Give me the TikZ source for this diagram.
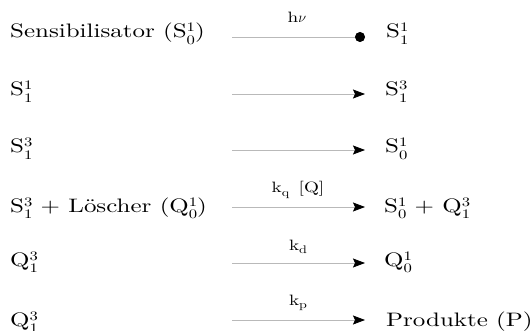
\documentclass[tikz,border=0pt]{standalone}
\usepackage{fontspec}
\setmainfont{lmroman10-regular}[Extension=.otf, FakeStretch=1.28]
\usetikzlibrary{arrows.meta}
\newcommand{\supsub}[2]{{\fontsize{13}{14}\selectfont\rlap{\raisebox{6pt}{#1}}\raisebox{-6.5pt}{#2}}}
\newcommand{\lsub}[1]{\raisebox{-3pt}{\fontsize{11}{12}\selectfont #1}}
\tikzset{
  txt/.style={inner sep=0pt, anchor=base west, font=\fontsize{19.5}{22}\selectfont},
  lbl/.style={inner sep=0pt, anchor=base, font=\fontsize{15}{17}\selectfont},
  rxn/.style={draw=gray!55, line width=0.8pt, -{Stealth[length=12pt,width=9pt,inset=2pt,black]}},
  rxndot/.style={draw=gray!55, line width=0.8pt, -{Circle[length=10pt,black]}}
}
\begin{document}
\begin{tikzpicture}[x=1pt,y=-1pt]
\useasboundingbox (0,0) rectangle (532,331);
% left column
\node[txt] (L1) at (10,38) {Sensibilisator (S\supsub{1}{0})};
\node[txt] (L2) at (10,96) {S\supsub{1}{1}};
\node[txt] (L3) at (10,153) {S\supsub{3}{1}};
\node[txt] (L4) at (10,212) {S\supsub{3}{1} + Löscher (Q\supsub{1}{0})};
\node[txt] (L5) at (10,266) {Q\supsub{3}{1}};
\node[txt] (L6) at (10,326) {Q\supsub{3}{1}};
% right column
\node[txt] (R1) at (386,38) {S\supsub{1}{1}};
\node[txt] (R2) at (385,96) {S\supsub{3}{1}};
\node[txt] (R3) at (385,153) {S\supsub{1}{0}};
\node[txt] (R4) at (384,212) {S\supsub{1}{0} + Q\supsub{3}{1}};
\node[txt] (R5) at (384,266) {Q\supsub{1}{0}};
\node[txt] (R6) at (386,326) {Produkte (P)};
% arrow end points
\coordinate (s1) at (232,37);  \coordinate (e1) at (365,37);
\coordinate (s2) at (232,94);  \coordinate (e2) at (365,94);
\coordinate (s3) at (232,150); \coordinate (e3) at (365,150);
\coordinate (s4) at (232,207); \coordinate (e4) at (365,207);
\coordinate (s5) at (232,263); \coordinate (e5) at (365,263);
\coordinate (s6) at (232,320); \coordinate (e6) at (365,320);
\draw[rxndot] (s1) -- (e1);
\draw[rxn] (s2) -- (e2);
\draw[rxn] (s3) -- (e3);
\draw[rxn] (s4) -- (e4);
\draw[rxn] (s5) -- (e5);
\draw[rxn] (s6) -- (e6);
% labels
\node[lbl] (K1) at (297,23) {h$\nu$};
\node[lbl] (K4) at (298,193) {k\lsub{q}\hspace{3pt} [Q]};
\node[lbl] (K5) at (298,250) {k\lsub{d}};
\node[lbl] (K6) at (298,305) {k\lsub{p}};
\end{tikzpicture}
\end{document}
